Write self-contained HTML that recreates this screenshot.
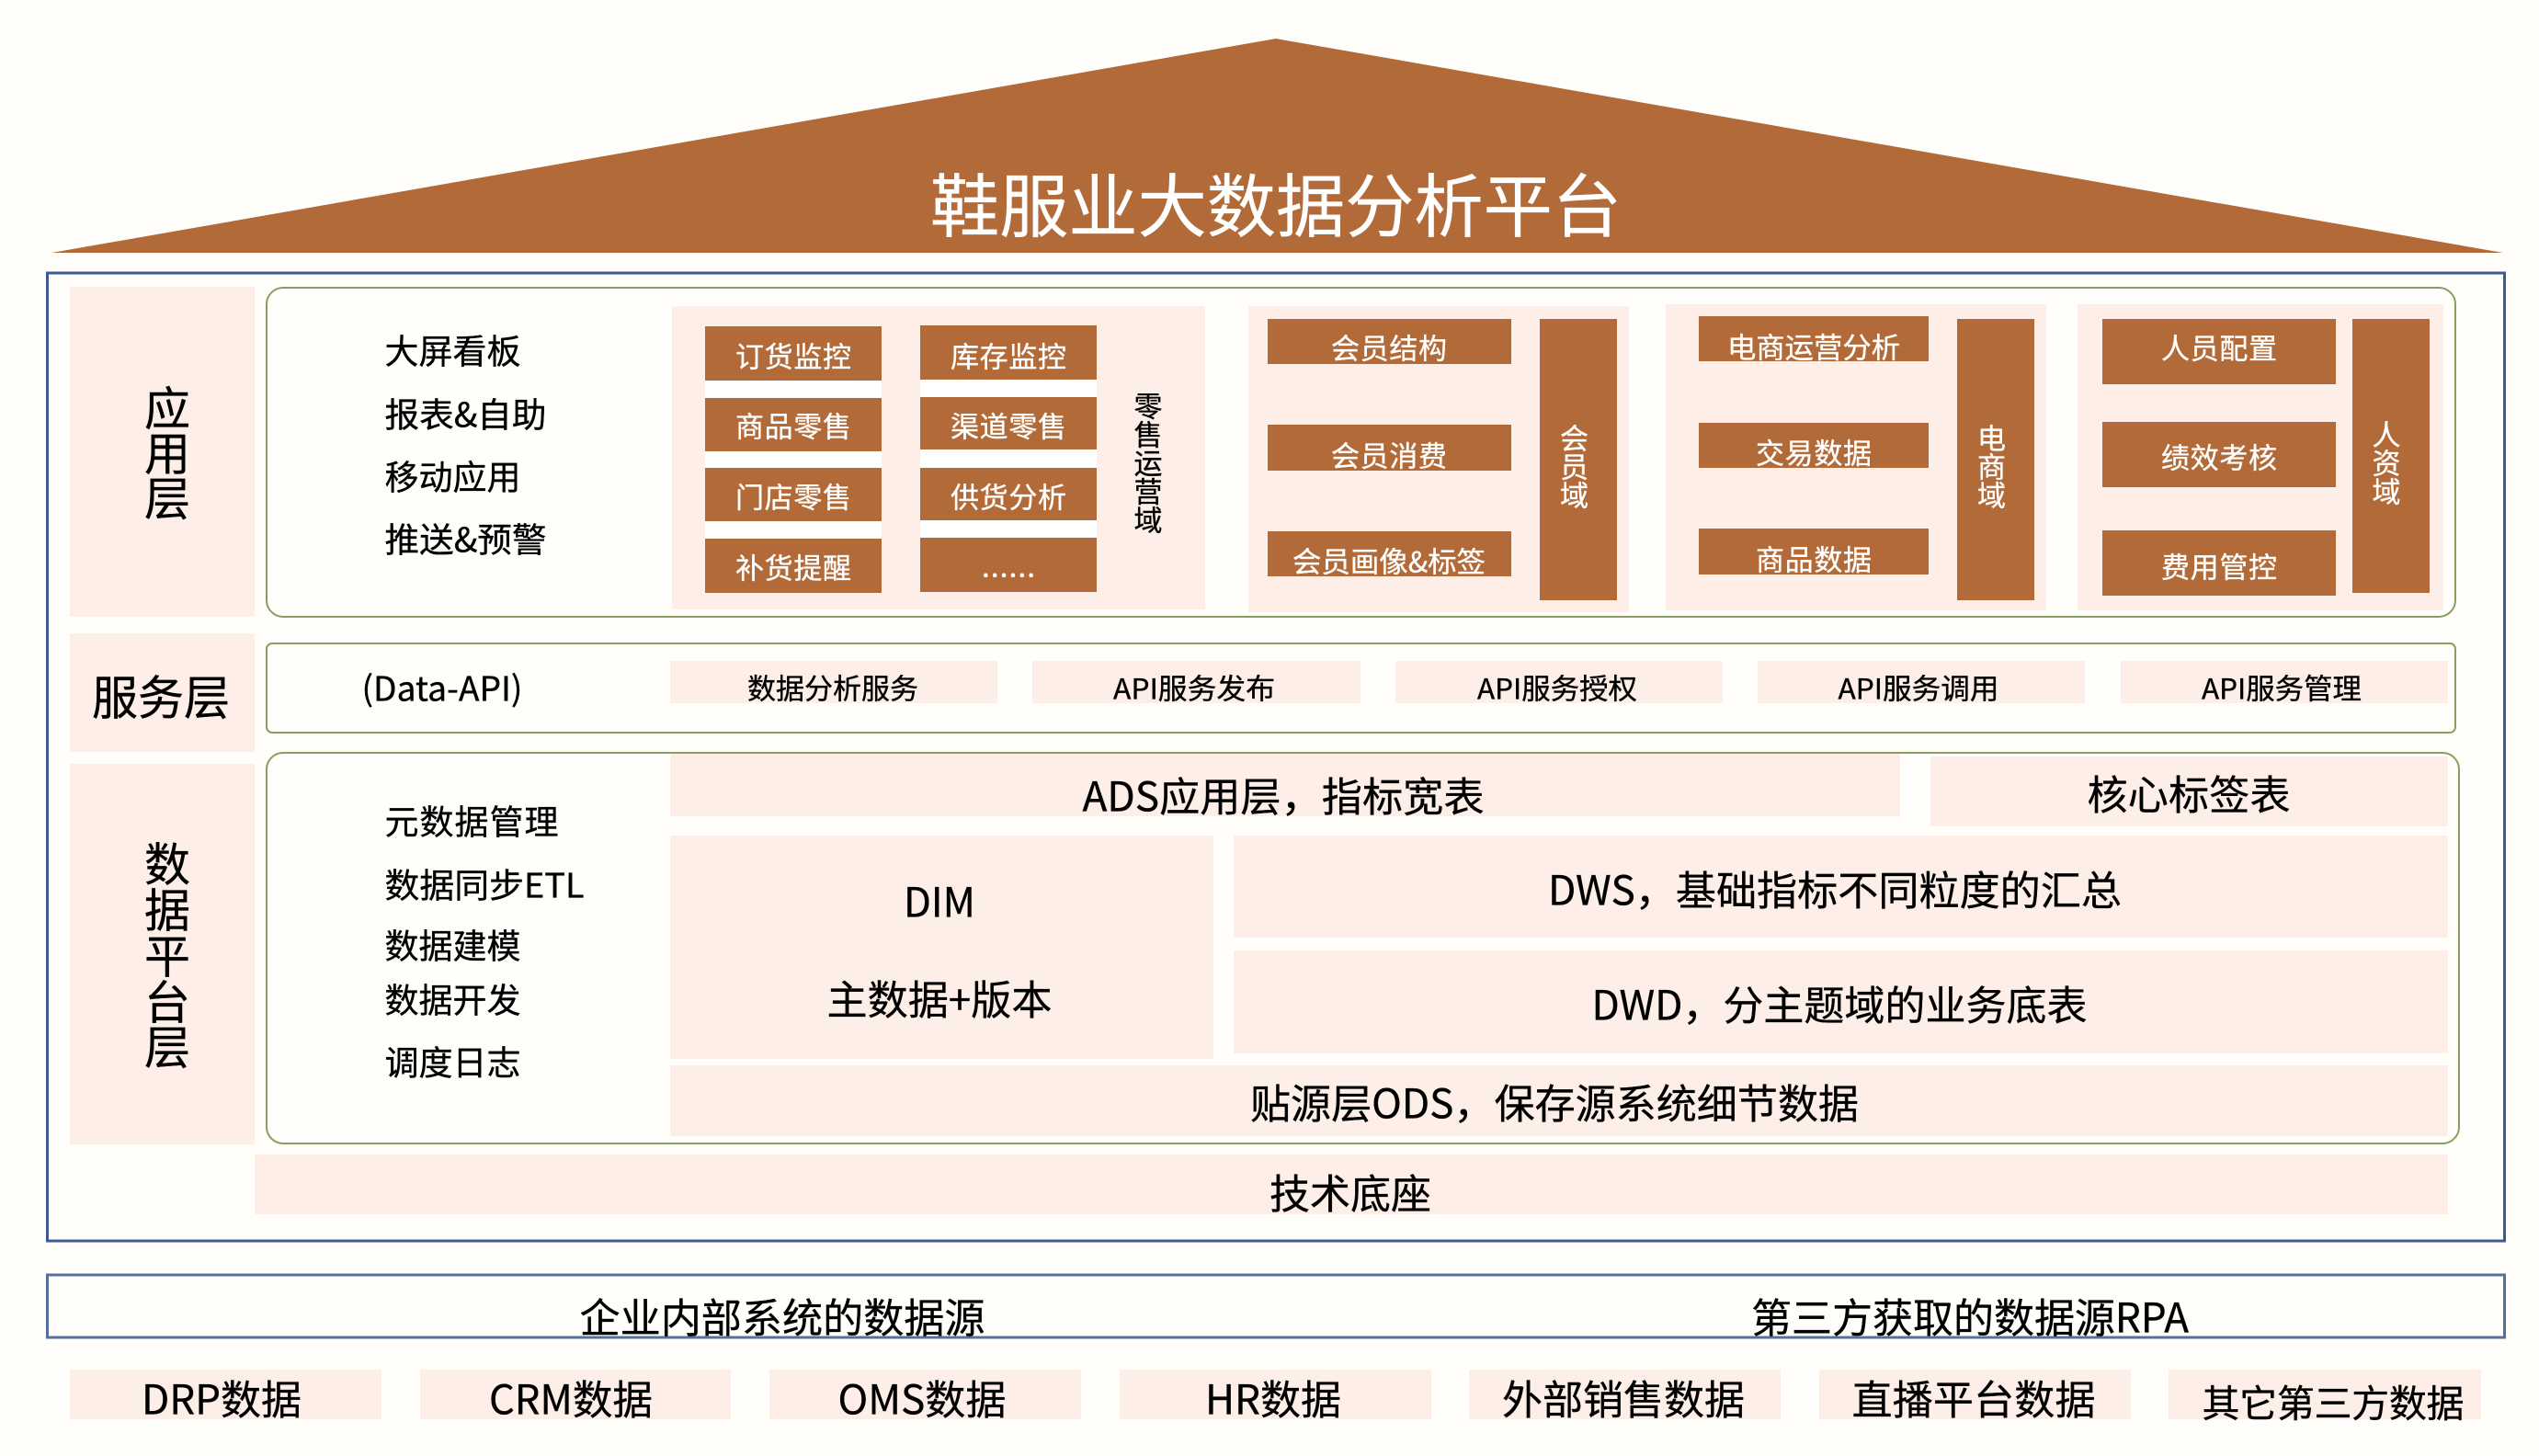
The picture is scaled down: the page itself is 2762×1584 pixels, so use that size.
<!DOCTYPE html>
<html lang="zh"><head><meta charset="utf-8"><title>鞋服业大数据分析平台</title>
<style>
html,body{margin:0;padding:0;background:#fffefa;width:2762px;height:1584px;overflow:hidden}
svg{display:block}
text{font-family:"Noto Sans CJK SC","Liberation Sans",sans-serif;fill:#000;stroke:#000;stroke-width:.35px;transform:translateY(1.5px)}
.p{fill:#fdeee7}.b{fill:#b26a38}.w{fill:#fff}
text.t{fill:#fff;stroke:#fff}
.m{text-anchor:middle}
.f31{font-size:31px}.f37{font-size:37px}.f44{font-size:44px}.f50{font-size:50px}
</style></head><body>
<svg xmlns="http://www.w3.org/2000/svg" width="2762" height="1584" viewBox="0 0 2762 1584">
<rect width="2762" height="1584" fill="#fffefa"/>
<polygon points="1388,42 2723,275 56,275" class="b"/>
<text x="1388" y="250" class="t m" font-size="75" textLength="752" lengthAdjust="spacingAndGlyphs">鞋服业大数据分析平台</text>
<rect x="51.5" y="297" width="2673" height="1053" fill="none" stroke="#3f5b97" stroke-width="3"/>

<!-- labels -->
<rect x="76" y="312" width="201" height="359" class="p"/>
<rect x="76" y="689" width="201" height="129" class="p"/>
<rect x="76" y="831" width="201" height="414" class="p"/>
<g class="f50 m">
<text x="182" y="461" class="m f50">应</text><text x="182" y="510" class="m f50">用</text><text x="182" y="559" class="m f50">层</text>
<text x="175" y="776" class="m" font-size="51" textLength="150" lengthAdjust="spacingAndGlyphs">服务层</text>
<text x="182" y="957" class="m f50">数</text><text x="182" y="1007" class="m f50">据</text><text x="182" y="1057" class="m f50">平</text><text x="182" y="1107" class="m f50">台</text><text x="182" y="1156" class="m f50">层</text>
</g>

<!-- app panel -->
<rect x="290" y="313" width="2381" height="358" rx="18" ry="18" fill="none" stroke="#8a9f5f" stroke-width="2"/>
<text x="418.5" y="394" class="f37">大屏看板</text>
<text x="418.5" y="463" class="f37" textLength="176" lengthAdjust="spacingAndGlyphs">报表&amp;自助</text>
<text x="418.5" y="531" class="f37">移动应用</text>
<text x="418.5" y="599" class="f37" textLength="176" lengthAdjust="spacingAndGlyphs">推送&amp;预警</text>

<rect x="731" y="333" width="580" height="330" class="p"/>
<rect x="767" y="355" width="192" height="290" class="w"/>
<rect x="1001" y="354" width="192" height="290" class="w"/>
<rect x="767" y="355" width="192" height="59" class="b"/><rect x="767" y="433" width="192" height="58" class="b"/><rect x="767" y="509" width="192" height="58" class="b"/><rect x="767" y="586" width="192" height="59" class="b"/>
<rect x="1001" y="354" width="192" height="59" class="b"/><rect x="1001" y="432" width="192" height="57" class="b"/><rect x="1001" y="509" width="192" height="57" class="b"/><rect x="1001" y="585" width="192" height="59" class="b"/>
<g class="f31">
<text x="863" y="398" class="t m f31" textLength="126">订货监控</text><text x="863" y="474" class="t m f31" textLength="126">商品零售</text><text x="863" y="551" class="t m f31" textLength="126">门店零售</text><text x="863" y="628" class="t m f31" textLength="126">补货提醒</text>
<text x="1097" y="398" class="t m f31" textLength="126">库存监控</text><text x="1097" y="474" class="t m f31" textLength="126">渠道零售</text><text x="1097" y="551" class="t m f31" textLength="126">供货分析</text><text x="1097" y="626" class="t m f31" textLength="58">......</text>
</g>
<text x="1249" y="452" class="m f31">零</text><text x="1249" y="483" class="m f31">售</text><text x="1249" y="514" class="m f31">运</text><text x="1249" y="545" class="m f31">营</text><text x="1249" y="576" class="m f31">域</text>

<rect x="1358" y="333" width="414" height="333" class="p"/>
<rect x="1379" y="347" width="265" height="49" class="b"/><rect x="1379" y="462" width="265" height="50" class="b"/><rect x="1379" y="578" width="265" height="49" class="b"/>
<rect x="1675" y="347" width="84" height="306" class="b"/>
<text x="1511" y="389" class="t m f31" textLength="126">会员结构</text><text x="1511" y="506" class="t m f31" textLength="126">会员消费</text><text x="1511" y="621" class="t m f31" textLength="210" lengthAdjust="spacingAndGlyphs">会员画像&amp;标签</text>
<text x="1712.5" y="487" class="t m f31">会</text><text x="1712.5" y="518" class="t m f31">员</text><text x="1712.5" y="549" class="t m f31">域</text>

<rect x="1812" y="331" width="414" height="333" class="p"/>
<rect x="1848" y="344" width="250" height="49" class="b"/><rect x="1848" y="460" width="250" height="49" class="b"/><rect x="1848" y="575" width="250" height="50" class="b"/>
<rect x="2129" y="347" width="84" height="306" class="b"/>
<text x="1973" y="388" class="t m f31" textLength="188" lengthAdjust="spacingAndGlyphs">电商运营分析</text><text x="1973" y="503" class="t m f31" textLength="126">交易数据</text><text x="1973" y="619" class="t m f31" textLength="126">商品数据</text>
<text x="2166.5" y="487" class="t m f31">电</text><text x="2166.5" y="518" class="t m f31">商</text><text x="2166.5" y="549" class="t m f31">域</text>

<rect x="2260" y="331" width="398" height="333" class="p"/>
<rect x="2287" y="347" width="254" height="71" class="b"/><rect x="2287" y="459" width="254" height="71" class="b"/><rect x="2287" y="577" width="254" height="71" class="b"/>
<rect x="2559" y="347" width="84" height="298" class="b"/>
<text x="2414" y="389" class="t m f31" textLength="126">人员配置</text><text x="2414" y="508" class="t m f31" textLength="126">绩效考核</text><text x="2414" y="627" class="t m f31" textLength="126">费用管控</text>
<text x="2596" y="483" class="t m f31">人</text><text x="2596" y="514" class="t m f31">资</text><text x="2596" y="545" class="t m f31">域</text>

<!-- service -->
<rect x="290" y="700" width="2381" height="97" rx="6" fill="none" stroke="#8a9f5f" stroke-width="2"/>
<text x="481" y="761" class="m f37" textLength="175" lengthAdjust="spacingAndGlyphs">(Data-API)</text>
<rect x="729" y="719" width="356" height="46" class="p"/><rect x="1123" y="719" width="357" height="46" class="p"/><rect x="1518" y="719" width="356" height="46" class="p"/><rect x="1912" y="719" width="356" height="46" class="p"/><rect x="2307" y="719" width="356" height="46" class="p"/>
<text x="906" y="759" class="m f31" textLength="186">数据分析服务</text>
<text x="1299" y="759" class="m f31" textLength="176" lengthAdjust="spacingAndGlyphs">API服务发布</text>
<text x="1694" y="759" class="m f31" textLength="174" lengthAdjust="spacingAndGlyphs">API服务授权</text>
<text x="2087" y="759" class="m f31" textLength="175" lengthAdjust="spacingAndGlyphs">API服务调用</text>
<text x="2482" y="759" class="m f31" textLength="174" lengthAdjust="spacingAndGlyphs">API服务管理</text>

<!-- data platform -->
<rect x="290" y="819" width="2385" height="425" rx="18" ry="18" fill="none" stroke="#8a9f5f" stroke-width="2"/>
<text x="418.5" y="906" class="f37" textLength="189">元数据管理</text>
<text x="418.5" y="975" class="f37" textLength="217" lengthAdjust="spacingAndGlyphs">数据同步ETL</text>
<text x="418.5" y="1041" class="f37">数据建模</text>
<text x="418.5" y="1100" class="f37">数据开发</text>
<text x="418.5" y="1168" class="f37">调度日志</text>
<rect x="729" y="820" width="1338" height="68" class="p"/>
<rect x="2100" y="823" width="563" height="76" class="p"/>
<rect x="729" y="909" width="591" height="243" class="p"/>
<rect x="1342" y="909" width="1321" height="111" class="p"/>
<rect x="1342" y="1034" width="1321" height="112" class="p"/>
<rect x="729" y="1159" width="1934" height="77" class="p"/>
<rect x="277" y="1256" width="2386" height="65" class="p"/>
<text x="1396" y="881" class="m f44" textLength="437" lengthAdjust="spacingAndGlyphs">ADS应用层，指标宽表</text>
<text x="2381" y="879" class="m f44" textLength="221">核心标签表</text>
<text x="1022" y="996" class="m f44" textLength="78" lengthAdjust="spacingAndGlyphs">DIM</text>
<text x="1022" y="1102" class="m f44" textLength="245" lengthAdjust="spacingAndGlyphs">主数据+版本</text>
<text x="1996" y="983" class="m f44" textLength="624" lengthAdjust="spacingAndGlyphs">DWS，基础指标不同粒度的汇总</text>
<text x="2001" y="1108" class="m f44" textLength="539" lengthAdjust="spacingAndGlyphs">DWD，分主题域的业务底表</text>
<text x="1691" y="1215" class="m f44" textLength="662" lengthAdjust="spacingAndGlyphs">贴源层ODS，保存源系统细节数据</text>
<text x="1469" y="1313" class="m f44" textLength="176">技术底座</text>

<!-- sources -->
<rect x="51.5" y="1387" width="2673" height="68" fill="none" stroke="#54719e" stroke-width="3"/>
<text x="851" y="1448" class="m f44" textLength="441" lengthAdjust="spacingAndGlyphs">企业内部系统的数据源</text>
<text x="2143" y="1448" class="m f44" textLength="476" lengthAdjust="spacingAndGlyphs">第三方获取的数据源RPA</text>
<rect x="76" y="1490" width="339" height="54" class="p"/><rect x="457" y="1490" width="338" height="54" class="p"/><rect x="837" y="1490" width="339" height="54" class="p"/><rect x="1218" y="1490" width="339" height="54" class="p"/><rect x="1598" y="1490" width="339" height="54" class="p"/><rect x="1979" y="1490" width="339" height="54" class="p"/><rect x="2359" y="1490" width="340" height="54" class="p"/>
<text x="241" y="1537" class="m f44" textLength="174" lengthAdjust="spacingAndGlyphs">DRP数据</text>
<text x="621" y="1537" class="m f44" textLength="178" lengthAdjust="spacingAndGlyphs">CRM数据</text>
<text x="1003" y="1537" class="m f44" textLength="183" lengthAdjust="spacingAndGlyphs">OMS数据</text>
<text x="1385" y="1537" class="m f44" textLength="148" lengthAdjust="spacingAndGlyphs">HR数据</text>
<text x="1766" y="1537" class="m f44" textLength="264">外部销售数据</text>
<text x="2147" y="1537" class="m f44" textLength="265">直播平台数据</text>
<text x="2538" y="1540" class="m" font-size="41" textLength="285">其它第三方数据</text>
</svg>
</body></html>
